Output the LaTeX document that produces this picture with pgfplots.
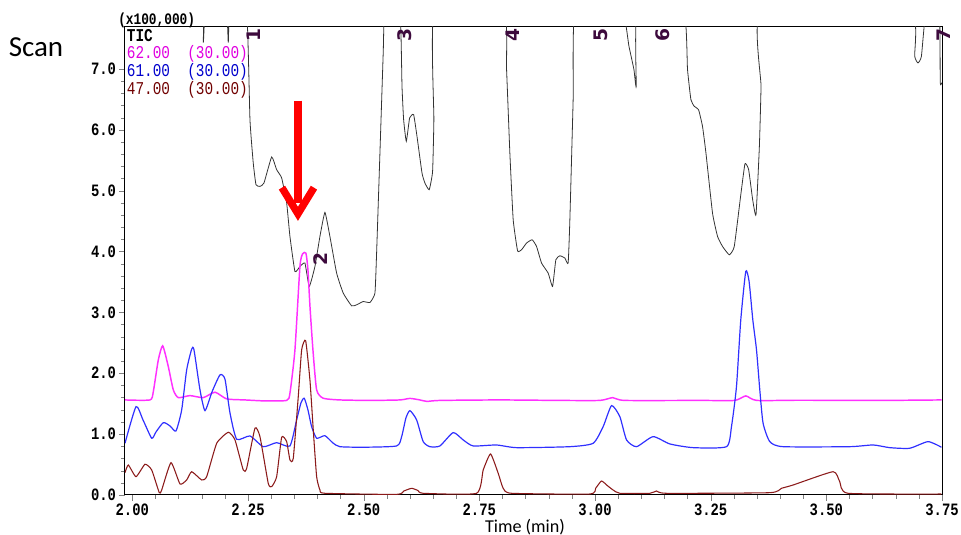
\documentclass[border=0pt]{standalone}
\usepackage{fontspec}
\setmainfont{Carlito}
\newfontfamily\mono[FakeStretch=0.8]{Liberation Mono}
\usepackage{pgfplots}
\pgfplotsset{compat=1.18}
\usetikzlibrary{arrows.meta}

\definecolor{ticc}{HTML}{333333}
\definecolor{mag}{HTML}{FF30FF}
\definecolor{blu}{HTML}{3030FF}
\definecolor{dred}{HTML}{8B1A1A}
\definecolor{pklab}{HTML}{3D0A3D}
\definecolor{legmag}{HTML}{E000E0}
\definecolor{legblu}{HTML}{0000CC}
\definecolor{legred}{HTML}{700000}

\begin{document}
\begin{tikzpicture}
\useasboundingbox (-93.75pt,-30pt) rectangle (627pt,371.25pt);
\begin{axis}[
  scale only axis,
  width=612.75pt, height=351pt,
  xmin=1.9842, xmax=3.75,
  ymin=0, ymax=7.69,
  axis line style={line width=0.75pt},
  tick align=outside, tick pos=left,
  major tick length=4.5pt, minor tick length=3pt,
  xtick={2,2.25,2.5,2.75,3,3.25,3.5,3.75},
  xticklabels={2.00,2.25,2.50,2.75,3.00,3.25,3.50,3.75},
  ytick={0,1,2,3,4,5,6,7},
  yticklabels={0.0,1.0,2.0,3.0,4.0,5.0,6.0,7.0},
  minor x tick num=4, minor y tick num=4,
  ticklabel style={font=\mono\bfseries\fontsize{13}{14}\selectfont, inner sep=2pt},
  clip mode=individual,
]

% TIC
\addplot[ticc, line width=0.6pt, smooth, tension=0.25] coordinates {
(1.9842,8.5) (2.1463,8.0) (2.1534,7.434) (2.1592,8.0) (2.2024,8.0) (2.2074,7.434) (2.2111,8.0)
(2.2467,8.0) (2.2543,6.168) (2.2614,5.455) (2.2673,5.099) (2.2759,5.071) (2.2846,5.127)
(2.3012,5.554) (2.3120,5.345) (2.3228,5.209) (2.3336,4.798) (2.3407,4.248) (2.3515,3.673)
(2.3623,3.755) (2.3731,3.811) (2.3824,3.426) (2.3947,3.755) (2.4055,4.248) (2.4163,4.643)
(2.4271,4.248) (2.4416,3.646) (2.4559,3.317) (2.4740,3.108) (2.4848,3.125) (2.4991,3.179)
(2.5136,3.163) (2.5244,3.317) (2.5280,3.975) (2.5352,5.620) (2.5423,7.265) (2.5460,7.98)
(2.5782,7.98) (2.5829,6.715) (2.5864,6.168) (2.5922,5.811) (2.5994,6.196) (2.6080,6.250)
(2.6153,5.893) (2.6261,5.291) (2.6324,5.127) (2.6417,5.016) (2.6490,5.317) (2.6518,6.168)
(2.6536,7.98) (2.8020,7.98) (2.8089,6.990) (2.8160,5.620) (2.8232,4.523) (2.8327,4.013)
(2.8413,4.030) (2.8521,4.140) (2.8642,4.194) (2.8737,4.084) (2.8845,3.811) (2.8988,3.646)
(2.9083,3.426) (2.9154,3.865) (2.9241,3.931) (2.9349,3.893) (2.9420,3.811) (2.9457,4.523)
(2.9528,6.497) (2.9576,7.98) (3.0571,7.98) (3.0734,7.373) (3.0842,6.990) (3.0891,6.715)
(3.0917,7.98) (3.1911,7.98) (3.2000,6.990) (3.2073,6.497) (3.2145,6.387) (3.2238,6.332)
(3.2324,6.057) (3.2398,5.620) (3.2540,4.633) (3.2649,4.248) (3.2757,4.084) (3.2902,3.947)
(3.3010,4.084) (3.3156,4.962) (3.3242,5.444) (3.3321,5.345) (3.3408,4.852) (3.3480,4.605)
(3.3553,5.729) (3.3589,6.715) (3.3607,7.98) (3.6791,7.98) (3.6910,7.209) (3.6981,7.100)
(3.7055,7.209) (3.7159,7.98) (3.7440,7.98) (3.7462,6.776) (3.7494,6.776)
};

% 62.00
\addplot[mag, line width=1.1pt, smooth, tension=0.35] coordinates {
(1.9842,1.562) (2.0382,1.562) (2.0454,1.699) (2.0562,2.220) (2.0657,2.451) (2.0778,2.110)
(2.0886,1.727) (2.0994,1.600) (2.1247,1.633) (2.1534,1.600) (2.1787,1.689) (2.2040,1.579)
(2.2435,1.562) (2.2867,1.546) (2.3336,1.554) (2.3407,1.673) (2.3515,2.385) (2.3623,3.755)
(2.3682,3.964) (2.3753,3.972) (2.3796,3.700) (2.3840,3.097) (2.3904,2.385) (2.3984,1.727)
(2.4127,1.590) (2.4487,1.562) (2.5135,1.554) (2.5784,1.562) (2.6000,1.587) (2.6216,1.562)
(2.6367,1.538) (2.6648,1.554) (2.7944,1.562) (2.9239,1.554) (3.0104,1.554) (3.0385,1.600)
(3.0644,1.554) (3.2264,1.554) (3.3020,1.554) (3.3258,1.628) (3.3495,1.554) (3.4424,1.557)
(3.6152,1.554) (3.7494,1.562)
};

% 61.00
\addplot[blu, line width=0.9pt, smooth, tension=0.35] coordinates {
(1.9842,0.850) (2.0080,1.452) (2.0231,1.234) (2.0419,0.933) (2.0512,1.036) (2.0670,1.189)
(2.0815,1.135) (2.0944,1.053) (2.1067,1.398) (2.1175,2.056) (2.1283,2.396) (2.1333,2.385)
(2.1463,1.727) (2.1571,1.386) (2.1722,1.694) (2.1895,1.974) (2.2003,1.903) (2.2111,1.349)
(2.2256,0.916) (2.2543,0.970) (2.2830,0.794) (2.3120,0.860) (2.3407,0.806) (2.3552,1.234)
(2.3645,1.513) (2.3716,1.590) (2.3796,1.398) (2.3876,1.123) (2.3984,0.933) (2.4163,0.975)
(2.4336,0.855) (2.4487,0.794) (2.4991,0.785) (2.5712,0.806) (2.5821,0.959) (2.5914,1.266)
(2.6000,1.386) (2.6145,1.234) (2.6287,0.877) (2.6432,0.794) (2.6648,0.806) (2.6935,1.025)
(2.7151,0.905) (2.7367,0.806) (2.7873,0.822) (2.8305,0.778) (2.9457,0.794) (2.9960,0.850)
(3.0176,1.123) (3.0358,1.469) (3.0537,1.288) (3.0682,0.905) (3.0898,0.794) (3.1256,0.959)
(3.1617,0.839) (3.2121,0.778) (3.2842,0.794) (3.2950,1.123) (3.3058,1.781) (3.3151,2.878)
(3.3259,3.673) (3.3331,3.508) (3.3411,2.878) (3.3491,2.385) (3.3562,1.727) (3.3633,1.179)
(3.3778,0.877) (3.4065,0.794) (3.5506,0.794) (3.6010,0.822) (3.6370,0.778) (3.6802,0.768)
(3.7198,0.877) (3.7487,0.785)
};

% 47.00
\addplot[dred, line width=0.8pt, smooth, tension=0.3] coordinates {
(1.9842,0.367) (1.9914,0.493) (2.0080,0.301) (2.0274,0.505) (2.0419,0.411) (2.0583,0.038)
(2.0635,0.082) (2.0836,0.531) (2.1031,0.181) (2.1175,0.247) (2.1283,0.383) (2.1499,0.247)
(2.1607,0.301) (2.1824,0.850) (2.2074,1.031) (2.2219,0.905) (2.2398,0.411) (2.2472,0.439)
(2.2651,1.097) (2.2759,0.959) (2.2938,0.192) (2.3012,0.137) (2.3120,0.301) (2.3228,0.949)
(2.3336,0.877) (2.3407,0.576) (2.3479,0.604) (2.3587,1.617) (2.3660,2.385) (2.3746,2.538)
(2.3839,1.891) (2.3911,1.069) (2.3984,0.301) (2.4056,0.082) (2.4163,0.028) (2.5712,0.010)
(2.5870,0.066) (2.6036,0.110) (2.6173,0.074) (2.6287,0.028) (2.7441,0.028) (2.7584,0.411)
(2.7743,0.674) (2.7908,0.357) (2.8016,0.110) (2.8198,0.028) (2.9886,0.016) (3.0018,0.115)
(3.0141,0.230) (3.0277,0.148) (3.0392,0.082) (3.0537,0.028) (3.1185,0.028) (3.1330,0.066)
(3.1546,0.028) (3.3778,0.038) (3.4031,0.110) (3.4281,0.164) (3.5145,0.383) (3.5290,0.219)
(3.5469,0.028) (3.7487,0.016)
};

% peak numbers
\tikzset{pk/.style={pklab, font=\fontspec{DejaVu Sans}\bfseries\fontsize{14}{15}\selectfont, rotate=90, inner sep=0pt}}
\node[pk] at (axis cs:2.2620,7.56) {1};
\node[pk] at (axis cs:2.4075,3.88) {2};
\node[pk] at (axis cs:2.5877,7.56) {3};
\node[pk] at (axis cs:2.8232,7.56) {4};
\node[pk] at (axis cs:3.0133,7.56) {5};
\node[pk] at (axis cs:3.1473,7.56) {6};
\node[pk] at (axis cs:3.7526,7.56) {7};

% red arrow
\draw[red, line width=5.5pt] (axis cs:2.358,6.48) -- (axis cs:2.358,4.80);
\draw[red, line width=5.5pt, line join=miter, line cap=butt] (axis cs:2.3234,5.05) -- (axis cs:2.358,4.62) -- (axis cs:2.3926,5.05);

% legend text
\path (rel axis cs:0,1) node[anchor=west, xshift=1.2pt, yshift=-6.4pt, font=\mono\bfseries\fontsize{13.5}{14}\selectfont, black, inner sep=0pt] {TIC};
\path (rel axis cs:0,1) node[anchor=west, xshift=1.2pt, yshift=-19.9pt, font=\mono\fontsize{13.5}{14}\selectfont, legmag, inner sep=0pt] {62.00\ \ (30.00)};
\path (rel axis cs:0,1) node[anchor=west, xshift=1.2pt, yshift=-33.4pt, font=\mono\fontsize{13.5}{14}\selectfont, legblu, inner sep=0pt] {61.00\ \ (30.00)};
\path (rel axis cs:0,1) node[anchor=west, xshift=1.2pt, yshift=-47.2pt, font=\mono\fontsize{13.5}{14}\selectfont, legred, inner sep=0pt] {47.00\ \ (30.00)};
\path (rel axis cs:0,1) node[anchor=west, xshift=-5.25pt, yshift=5.25pt, font=\mono\bfseries\fontsize{12}{13}\selectfont, black, inner sep=0pt] {(x100,000)};
\end{axis}
\node[font=\fontsize{21.75}{24}\selectfont, anchor=center] at (-66.75pt,336pt) {Scan};
\node[font=\fontsize{13.6}{15}\selectfont, anchor=center] at (300pt,-24pt) {Time (min)};
\end{tikzpicture}
\end{document}
